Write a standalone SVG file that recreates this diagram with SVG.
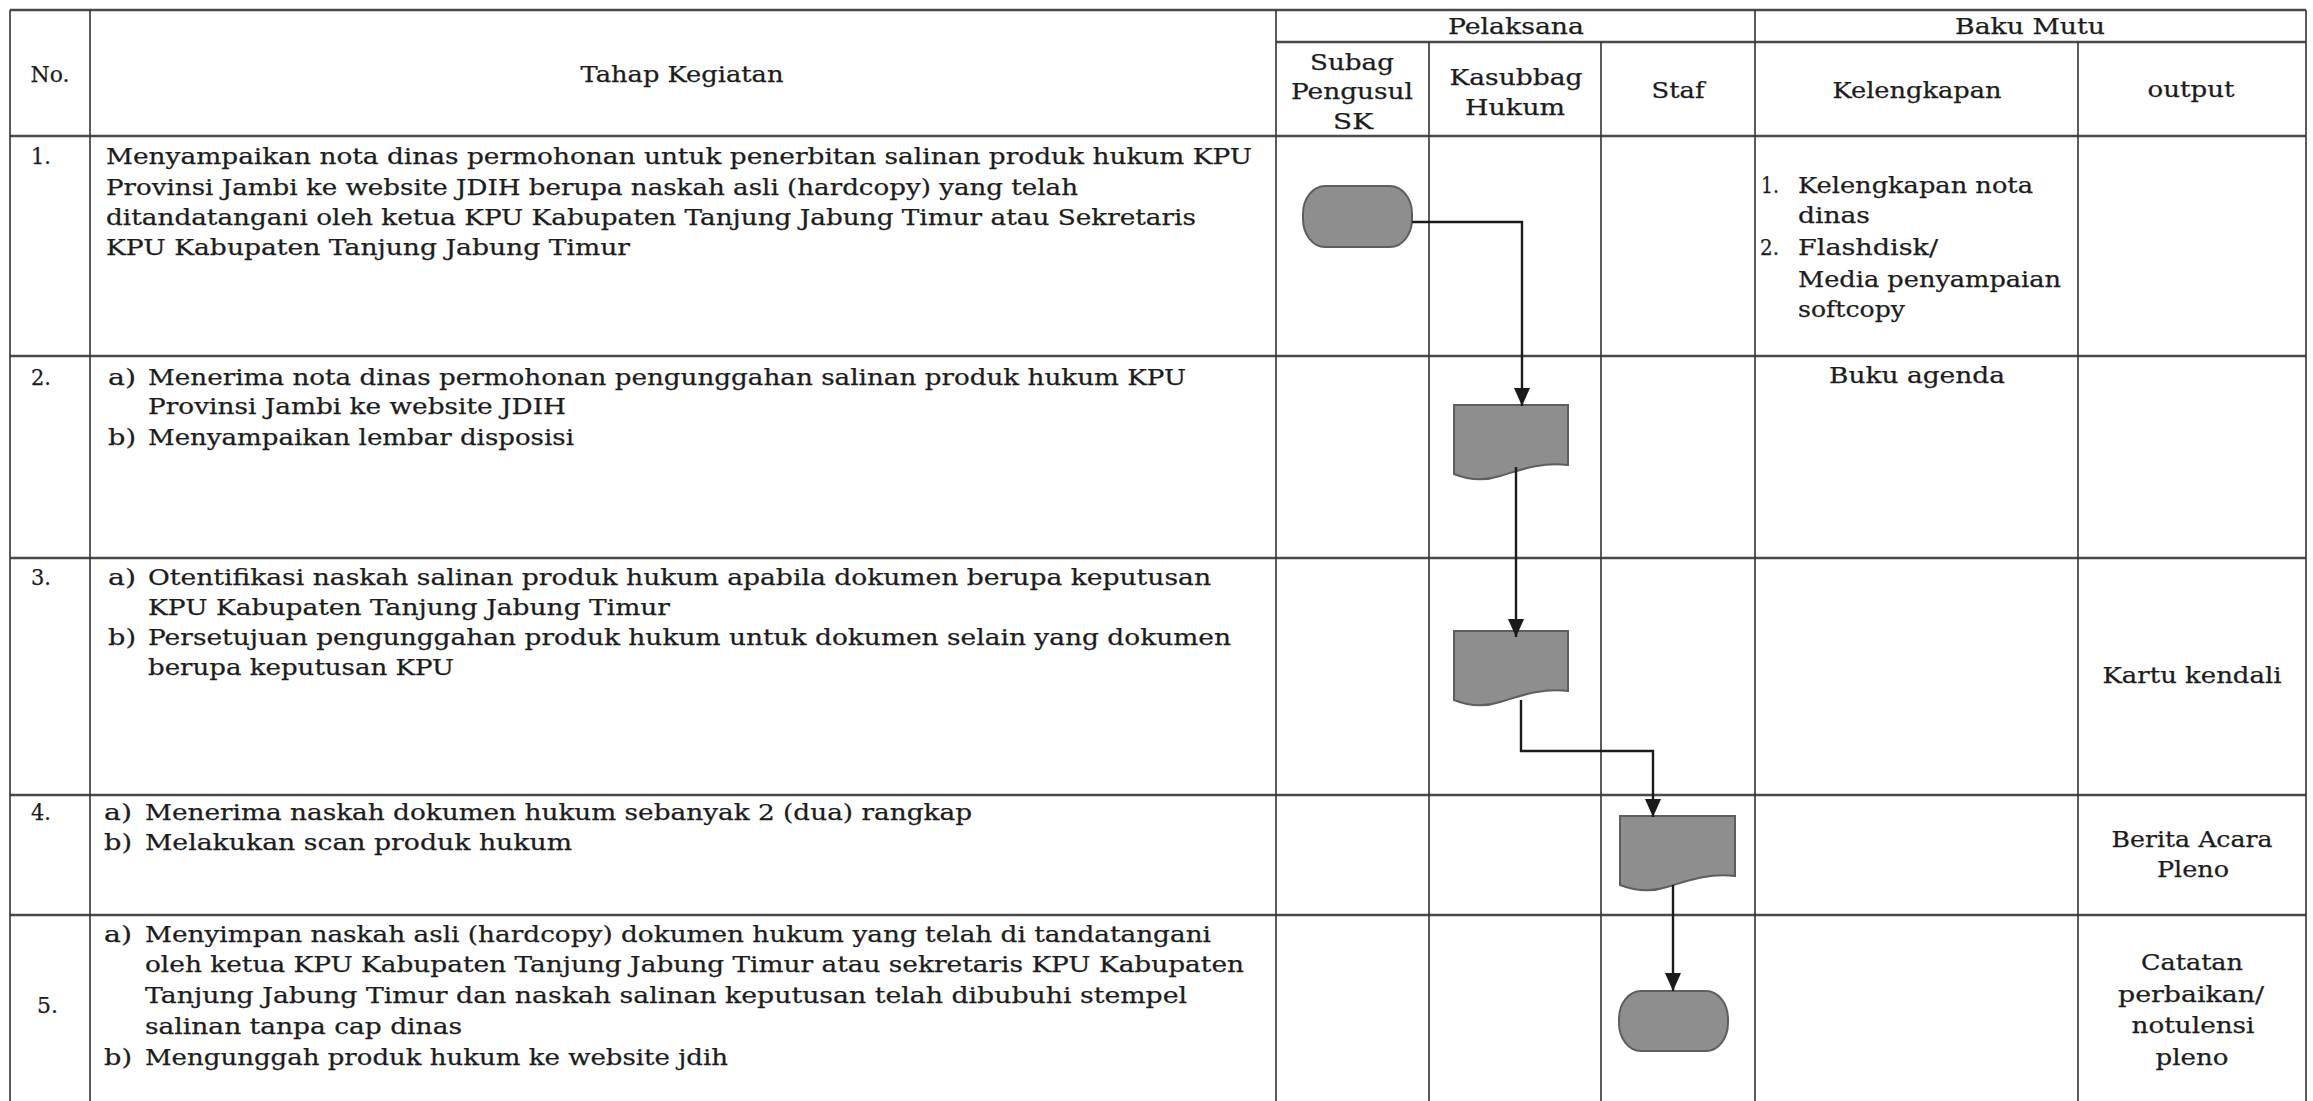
<svg xmlns="http://www.w3.org/2000/svg" width="2313" height="1101" viewBox="0 0 2313 1101">
<defs>
<style>
.t{font-family:"DejaVu Serif","Liberation Serif",serif;font-size:22px;fill:#1c1c1c;stroke:#1c1c1c;stroke-width:0.25}
.m{text-anchor:middle}
.h{stroke:#4a4a4a;stroke-width:2.5;fill:none}
.v{stroke:#333;stroke-width:1.6;fill:none}
.shape{fill:#8e8e8e;stroke:#5e5e5e;stroke-width:2}
.c{stroke:#1a1a1a;stroke-width:2.4;fill:none}
</style>
<marker id="arr" viewBox="0 0 18 16" refX="18" refY="8" markerWidth="18" markerHeight="16" markerUnits="userSpaceOnUse" orient="auto">
<path d="M0,0 L18,8 L0,16 Z" fill="#1a1a1a"/>
</marker>
</defs>
<rect width="2313" height="1101" fill="#ffffff"/>

<g id="grid">
<line class="h" x1="10" y1="10" x2="2306" y2="10"/>
<line class="h" x1="1276" y1="42" x2="2306" y2="42"/>
<line class="h" x1="10" y1="136" x2="2306" y2="136"/>
<line class="h" x1="10" y1="356" x2="2306" y2="356"/>
<line class="h" x1="10" y1="558" x2="2306" y2="558"/>
<line class="h" x1="10" y1="795" x2="2306" y2="795"/>
<line class="h" x1="10" y1="915" x2="2306" y2="915"/>
<line class="v" x1="10" y1="10" x2="10" y2="1101"/>
<line class="v" x1="90" y1="10" x2="90" y2="1101"/>
<line class="v" x1="1276" y1="10" x2="1276" y2="1101"/>
<line class="v" x1="1429" y1="42" x2="1429" y2="1101"/>
<line class="v" x1="1601" y1="42" x2="1601" y2="1101"/>
<line class="v" x1="1755" y1="10" x2="1755" y2="1101"/>
<line class="v" x1="2078" y1="42" x2="2078" y2="1101"/>
<line class="v" x1="2306" y1="10" x2="2306" y2="1101"/>
</g>

<g id="header">
<text class="t m" x="50" y="82" textLength="39" lengthAdjust="spacingAndGlyphs">No.</text>
<text class="t m" x="682" y="82" textLength="203" lengthAdjust="spacingAndGlyphs">Tahap Kegiatan</text>
<text class="t m" x="1516" y="34" textLength="136" lengthAdjust="spacingAndGlyphs">Pelaksana</text>
<text class="t m" x="2030" y="34" textLength="150" lengthAdjust="spacingAndGlyphs">Baku Mutu</text>
<text class="t m" x="1352" y="70" textLength="84" lengthAdjust="spacingAndGlyphs">Subag</text>
<text class="t m" x="1352" y="99" textLength="122" lengthAdjust="spacingAndGlyphs">Pengusul</text>
<text class="t m" x="1353" y="129" textLength="40" lengthAdjust="spacingAndGlyphs">SK</text>
<text class="t m" x="1516" y="85" textLength="133" lengthAdjust="spacingAndGlyphs">Kasubbag</text>
<text class="t m" x="1515" y="115" textLength="100" lengthAdjust="spacingAndGlyphs">Hukum</text>
<text class="t m" x="1678" y="98" textLength="53" lengthAdjust="spacingAndGlyphs">Staf</text>
<text class="t m" x="1917" y="98" textLength="169" lengthAdjust="spacingAndGlyphs">Kelengkapan</text>
<text class="t m" x="2191" y="97" textLength="87" lengthAdjust="spacingAndGlyphs">output</text>
</g>

<g id="row1">
<text class="t" x="31" y="164" textLength="20" lengthAdjust="spacingAndGlyphs">1.</text>
<text class="t" x="106" y="164" textLength="1146" lengthAdjust="spacingAndGlyphs">Menyampaikan nota dinas permohonan untuk penerbitan salinan produk hukum KPU</text>
<text class="t" x="106" y="195" textLength="972" lengthAdjust="spacingAndGlyphs">Provinsi Jambi ke website JDIH berupa naskah asli (hardcopy) yang telah</text>
<text class="t" x="106" y="225" textLength="1090" lengthAdjust="spacingAndGlyphs">ditandatangani oleh ketua KPU Kabupaten Tanjung Jabung Timur atau Sekretaris</text>
<text class="t" x="106" y="255" textLength="524" lengthAdjust="spacingAndGlyphs">KPU Kabupaten Tanjung Jabung Timur</text>
<text class="t" x="1761" y="193" textLength="18" lengthAdjust="spacingAndGlyphs">1.</text>
<text class="t" x="1798" y="193" textLength="235" lengthAdjust="spacingAndGlyphs">Kelengkapan nota</text>
<text class="t" x="1798" y="223" textLength="72" lengthAdjust="spacingAndGlyphs">dinas</text>
<text class="t" x="1760" y="255" textLength="19" lengthAdjust="spacingAndGlyphs">2.</text>
<text class="t" x="1798" y="255" textLength="140" lengthAdjust="spacingAndGlyphs">Flashdisk/</text>
<text class="t" x="1798" y="287" textLength="263" lengthAdjust="spacingAndGlyphs">Media penyampaian</text>
<text class="t" x="1798" y="317" textLength="107" lengthAdjust="spacingAndGlyphs">softcopy</text>
</g>

<g id="row2">
<text class="t" x="31" y="385" textLength="20" lengthAdjust="spacingAndGlyphs">2.</text>
<text class="t" x="108" y="385" textLength="28" lengthAdjust="spacingAndGlyphs">a)</text>
<text class="t" x="148" y="385" textLength="1038" lengthAdjust="spacingAndGlyphs">Menerima nota dinas permohonan pengunggahan salinan produk hukum KPU</text>
<text class="t" x="148" y="414" textLength="418" lengthAdjust="spacingAndGlyphs">Provinsi Jambi ke website JDIH</text>
<text class="t" x="108" y="445" textLength="28" lengthAdjust="spacingAndGlyphs">b)</text>
<text class="t" x="148" y="445" textLength="426" lengthAdjust="spacingAndGlyphs">Menyampaikan lembar disposisi</text>
<text class="t m" x="1917" y="383" textLength="176" lengthAdjust="spacingAndGlyphs">Buku agenda</text>
</g>

<g id="row3">
<text class="t" x="31" y="585" textLength="20" lengthAdjust="spacingAndGlyphs">3.</text>
<text class="t" x="108" y="585" textLength="28" lengthAdjust="spacingAndGlyphs">a)</text>
<text class="t" x="148" y="585" textLength="1063" lengthAdjust="spacingAndGlyphs">Otentifikasi naskah salinan produk hukum apabila dokumen berupa keputusan</text>
<text class="t" x="148" y="615" textLength="522" lengthAdjust="spacingAndGlyphs">KPU Kabupaten Tanjung Jabung Timur</text>
<text class="t" x="108" y="645" textLength="28" lengthAdjust="spacingAndGlyphs">b)</text>
<text class="t" x="148" y="645" textLength="1083" lengthAdjust="spacingAndGlyphs">Persetujuan pengunggahan produk hukum untuk dokumen selain yang dokumen</text>
<text class="t" x="148" y="675" textLength="306" lengthAdjust="spacingAndGlyphs">berupa keputusan KPU</text>
<text class="t m" x="2192" y="683" textLength="179" lengthAdjust="spacingAndGlyphs">Kartu kendali</text>
</g>

<g id="row4">
<text class="t" x="31" y="820" textLength="20" lengthAdjust="spacingAndGlyphs">4.</text>
<text class="t" x="104" y="820" textLength="28" lengthAdjust="spacingAndGlyphs">a)</text>
<text class="t" x="145" y="820" textLength="827" lengthAdjust="spacingAndGlyphs">Menerima naskah dokumen hukum sebanyak 2 (dua) rangkap</text>
<text class="t" x="104" y="850" textLength="28" lengthAdjust="spacingAndGlyphs">b)</text>
<text class="t" x="145" y="850" textLength="427" lengthAdjust="spacingAndGlyphs">Melakukan scan produk hukum</text>
<text class="t m" x="2192" y="847" textLength="161" lengthAdjust="spacingAndGlyphs">Berita Acara</text>
<text class="t m" x="2193" y="877" textLength="72" lengthAdjust="spacingAndGlyphs">Pleno</text>
</g>

<g id="row5">
<text class="t" x="37" y="1013" textLength="21" lengthAdjust="spacingAndGlyphs">5.</text>
<text class="t" x="104" y="942" textLength="28" lengthAdjust="spacingAndGlyphs">a)</text>
<text class="t" x="145" y="942" textLength="1066" lengthAdjust="spacingAndGlyphs">Menyimpan naskah asli (hardcopy) dokumen hukum yang telah di tandatangani</text>
<text class="t" x="145" y="972" textLength="1099" lengthAdjust="spacingAndGlyphs">oleh ketua KPU Kabupaten Tanjung Jabung Timur atau sekretaris KPU Kabupaten</text>
<text class="t" x="145" y="1003" textLength="1042" lengthAdjust="spacingAndGlyphs">Tanjung Jabung Timur dan naskah salinan keputusan telah dibubuhi stempel</text>
<text class="t" x="145" y="1034" textLength="317" lengthAdjust="spacingAndGlyphs">salinan tanpa cap dinas</text>
<text class="t" x="104" y="1065" textLength="28" lengthAdjust="spacingAndGlyphs">b)</text>
<text class="t" x="145" y="1065" textLength="583" lengthAdjust="spacingAndGlyphs">Mengunggah produk hukum ke website jdih</text>
<text class="t m" x="2192" y="970" textLength="102" lengthAdjust="spacingAndGlyphs">Catatan</text>
<text class="t m" x="2191" y="1002" textLength="146" lengthAdjust="spacingAndGlyphs">perbaikan/</text>
<text class="t m" x="2193" y="1033" textLength="123" lengthAdjust="spacingAndGlyphs">notulensi</text>
<text class="t m" x="2192" y="1065" textLength="73" lengthAdjust="spacingAndGlyphs">pleno</text>
</g>

<g id="node-start">
<rect class="shape" x="1303" y="186" width="109" height="61" rx="22" ry="28"/>
</g>
<g id="node-doc-terima">
<path class="shape" d="M1454,405 H1568 V465 C1540,462 1520,470 1500,476 C1482,482 1466,479 1454,474 Z"/>
</g>
<g id="node-doc-otentifikasi">
<path class="shape" d="M1454,631 H1568 V691 C1540,688 1520,696 1500,702 C1482,708 1466,705 1454,700 Z"/>
</g>
<g id="node-doc-scan">
<path class="shape" d="M1620,816 H1735 V876 C1707,873 1687,881 1667,887 C1649,893 1633,890 1620,885 Z"/>
</g>
<g id="node-end">
<rect class="shape" x="1619" y="991" width="109" height="60" rx="22" ry="28"/>
</g>

<g id="connectors">
<path class="c" d="M1412,222 H1522 V406" marker-end="url(#arr)"/>
<path class="c" d="M1516,467 V637" marker-end="url(#arr)"/>
<path class="c" d="M1521,700 V751 H1653 V817" marker-end="url(#arr)"/>
<path class="c" d="M1673,885 V991" marker-end="url(#arr)"/>
</g>
</svg>
